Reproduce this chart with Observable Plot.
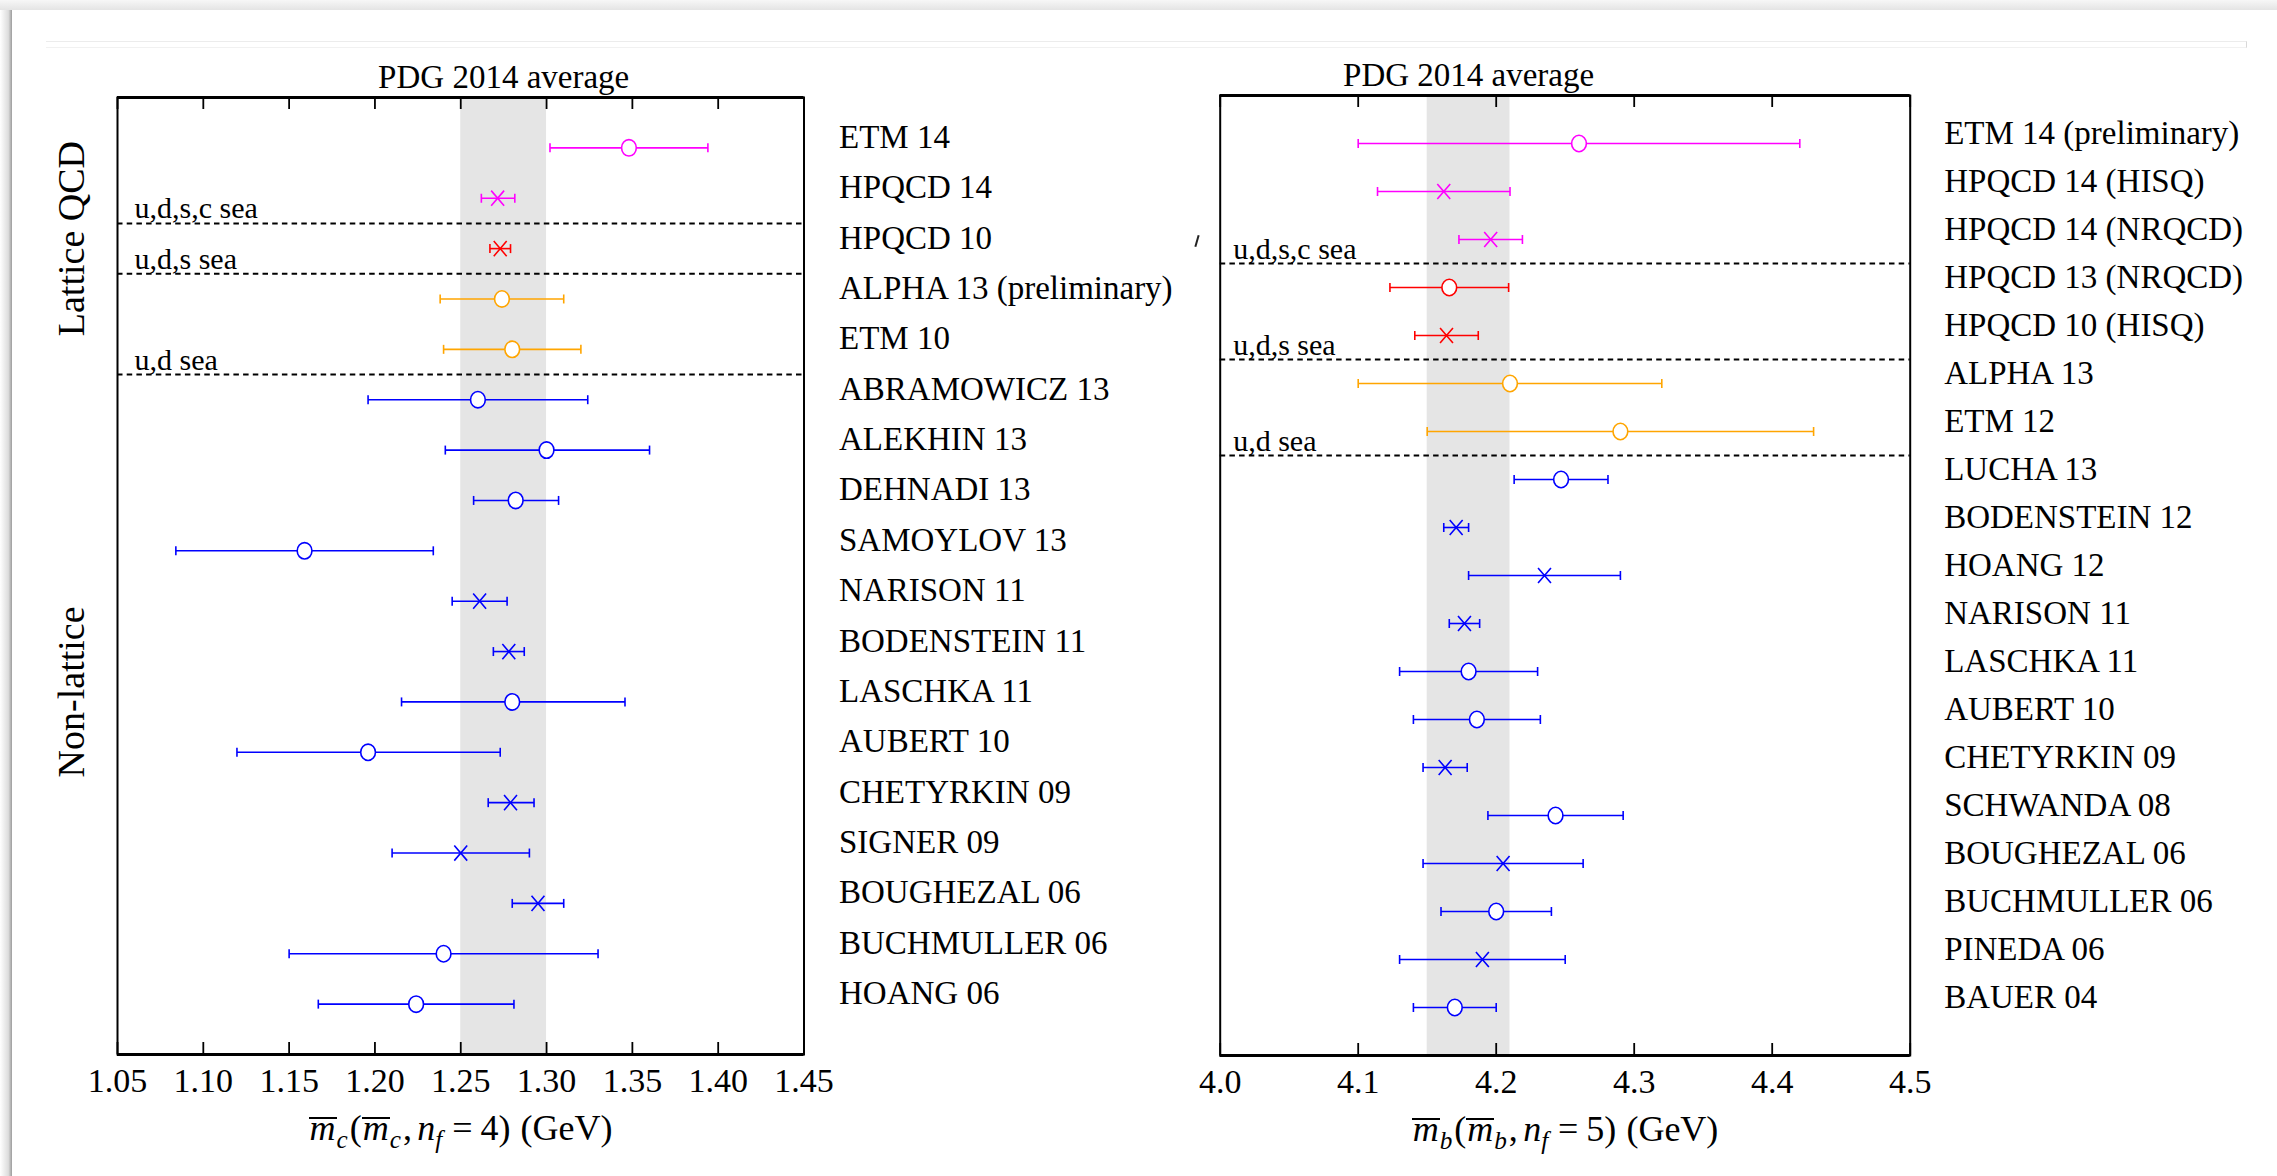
<!DOCTYPE html>
<html>
<head>
<meta charset="utf-8">
<script src="https://cdn.jsdelivr.net/npm/d3@7"></script>
<script src="https://cdn.jsdelivr.net/npm/@observablehq/plot@0.6"></script>
<style>
html, body { margin: 0; padding: 0; background: #fff; }
#page { position: relative; width: 2277px; height: 1176px; overflow: hidden; background: #fff;
        font-family: "Liberation Serif", "Times New Roman", serif; color: #000; }
.panel { position: absolute; top: 0; }
.panel svg { overflow: visible; background: transparent; }
.xl { position: absolute; text-align: center; font-size: 36px; line-height: 36px; white-space: nowrap; color: #000; }
.ob { display: inline-block; font-style: italic; line-height: 0.5em; border-top: 2px solid #000; padding: 0 1px; }
.sb { font-size: 0.7em; vertical-align: -0.3em; font-style: italic; margin-right: 2px; }
.eq { margin: 0 0.22em; }
.cm { margin-right: 0.15em; }
.gap { margin-left: 0.28em; }
.topshade { position: absolute; left: 0; top: 0; width: 100%; height: 10px;
            background: linear-gradient(to bottom, #f7f7f7, #e4e4e4); }
.leftshade { position: absolute; left: 0; top: 10px; width: 12px; height: 1166px;
             background: linear-gradient(to right, #ffffff, #dcdcdc 70%, #9c9c9c); }
.faint { position: absolute; left: 46px; top: 41px; width: 2200px; height: 5px;
         border-top: 1px solid #ececec; border-bottom: 1px solid #f1f1f1; border-right: 1px solid #d8d8d8; }
.stray { position: absolute; left: 1196px; top: 235px; width: 2px; height: 12px; background: #222;
         transform: rotate(16deg); }
</style>
</head>
<body>
<div id="page">
  <div class="topshade"></div>
  <div class="leftshade"></div>
  <div class="faint"></div>
  <div class="stray"></div>
  <div id="left" class="panel" style="left:0px"></div>
  <div id="right" class="panel" style="left:1150px"></div>
  <div class="xl" style="left:117px; width:687px; top:1110px;">
    <span class="ob">m</span><span class="sb">c</span>(<span class="ob">m</span><span class="sb">c</span><span class="cm">,</span><i>n</i><span class="sb">f</span><span class="eq">=</span>4)<span class="gap"></span>(GeV)
  </div>
  <div class="xl" style="left:1220px; width:690px; top:1111px;">
    <span class="ob">m</span><span class="sb">b</span>(<span class="ob">m</span><span class="sb">b</span><span class="cm">,</span><i>n</i><span class="sb">f</span><span class="eq">=</span>5)<span class="gap"></span>(GeV)
  </div>
</div>
<script>
// ---------- charm quark (left) ----------
const charmNames = ["ETM 14", "HPQCD 14", "HPQCD 10", "ALPHA 13 (preliminary)", "ETM 10",
  "ABRAMOWICZ 13", "ALEKHIN 13", "DEHNADI 13", "SAMOYLOV 13", "NARISON 11", "BODENSTEIN 11",
  "LASCHKA 11", "AUBERT 10", "CHETYRKIN 09", "SIGNER 09", "BOUGHEZAL 06", "BUCHMULLER 06", "HOANG 06"];
const charmValue = [1.348, 1.2715, 1.273, 1.274, 1.280, 1.260, 1.300, 1.282, 1.159, 1.261, 1.278,
  1.280, 1.196, 1.279, 1.250, 1.295, 1.240, 1.224];
const charmLow = [1.302, 1.262, 1.267, 1.238, 1.240, 1.196, 1.241, 1.2575, 1.084, 1.245, 1.269,
  1.2155, 1.1196, 1.266, 1.210, 1.280, 1.150, 1.167];
const charmHigh = [1.394, 1.2815, 1.279, 1.310, 1.320, 1.324, 1.360, 1.307, 1.234, 1.277, 1.287,
  1.3457, 1.273, 1.2927, 1.290, 1.310, 1.330, 1.281];
const charmMarker = ["o", "x", "x", "o", "o", "o", "o", "o", "o", "x", "x", "o", "o", "x", "x", "x", "o", "o"];
const charmSea = ["udsc", "udsc", "uds", "ud", "ud", "pheno", "pheno", "pheno", "pheno", "pheno", "pheno",
  "pheno", "pheno", "pheno", "pheno", "pheno", "pheno", "pheno"];
const charmSeparators = [1.5, 2.5, 4.5];
const charmTicks = [1.05, 1.10, 1.15, 1.20, 1.25, 1.30, 1.35, 1.40, 1.45];
const charmPDG = [1.25, 1.30];
const charmGroups = [{label: "Lattice QCD", first: 0, last: 4}, {label: "Non-lattice", first: 5, last: 17}];

// ---------- bottom quark (right) ----------
const bottomNames = ["ETM 14 (preliminary)", "HPQCD 14 (HISQ)", "HPQCD 14 (NRQCD)", "HPQCD 13 (NRQCD)",
  "HPQCD 10 (HISQ)", "ALPHA 13", "ETM 12", "LUCHA 13", "BODENSTEIN 12", "HOANG 12", "NARISON 11",
  "LASCHKA 11", "AUBERT 10", "CHETYRKIN 09", "SCHWANDA 08", "BOUGHEZAL 06", "BUCHMULLER 06", "PINEDA 06", "BAUER 04"];
const bottomValue = [4.260, 4.162, 4.196, 4.166, 4.164, 4.210, 4.290, 4.247, 4.171, 4.235, 4.177,
  4.180, 4.186, 4.163, 4.243, 4.205, 4.200, 4.190, 4.170];
const bottomLow = [4.100, 4.114, 4.173, 4.123, 4.141, 4.100, 4.150, 4.213, 4.162, 4.180, 4.166,
  4.130, 4.140, 4.147, 4.194, 4.147, 4.160, 4.130, 4.140];
const bottomHigh = [4.420, 4.210, 4.219, 4.209, 4.187, 4.320, 4.430, 4.281, 4.180, 4.290, 4.188,
  4.230, 4.232, 4.179, 4.292, 4.263, 4.240, 4.250, 4.200];
const bottomMarker = ["o", "x", "x", "o", "x", "o", "o", "o", "x", "x", "x", "o", "o", "x", "o", "x", "o", "x", "o"];
const bottomSea = ["udsc", "udsc", "udsc", "uds", "uds", "ud", "ud", "pheno", "pheno", "pheno", "pheno",
  "pheno", "pheno", "pheno", "pheno", "pheno", "pheno", "pheno", "pheno"];
const bottomSeparators = [2.5, 4.5, 6.5];
const bottomTicks = [4.0, 4.1, 4.2, 4.3, 4.4, 4.5];
const bottomPDG = [4.15, 4.21];

const seaLabels = ["u,d,s,c sea", "u,d,s sea", "u,d sea"];
const seaKinds = ["udsc", "uds", "ud", "pheno"];
const seaColors = ["#ff00ff", "#ff0000", "#ffa500", "#0000ff"];

// ---------- custom symbols ----------
const capSymbol = {draw(ctx, size) { const r = Math.sqrt(size / Math.PI); ctx.moveTo(0, -r); ctx.lineTo(0, r); }};
const crossSymbol = {draw(ctx, size) {
  const r = Math.sqrt(size / Math.PI), w = r * 0.85;
  ctx.moveTo(-w, -r); ctx.lineTo(w, r); ctx.moveTo(-w, r); ctx.lineTo(w, -r);
}};
const ringSymbol = {draw(ctx, size) {
  const r = Math.sqrt(size / Math.PI), rx = r * 0.9, ry = r, k = 0.5523;
  ctx.moveTo(rx, 0);
  ctx.bezierCurveTo(rx, ry * k, rx * k, ry, 0, ry);
  ctx.bezierCurveTo(-rx * k, ry, -rx, ry * k, -rx, 0);
  ctx.bezierCurveTo(-rx, -ry * k, -rx * k, -ry, 0, -ry);
  ctx.bezierCurveTo(rx * k, -ry, rx, -ry * k, rx, 0);
  ctx.closePath();
}};

function panel(cfg) {
  const rows = cfg.names.map((name, i) => ({i, name, v: cfg.value[i], lo: cfg.low[i], hi: cfg.high[i],
    mk: cfg.marker[i], sea: cfg.sea[i]}));
  const n = rows.length;
  const frameH = cfg.height - cfg.mt - cfg.mb;
  const yDomain = [n, -1];
  const bw = 1.6;
  return Plot.plot({
    width: cfg.width, height: cfg.height,
    marginLeft: cfg.ml, marginRight: cfg.mr, marginTop: cfg.mt, marginBottom: cfg.mb,
    style: {fontFamily: "Liberation Serif, Times New Roman, serif", color: "#000", background: "transparent", overflow: "visible"},
    x: {domain: [cfg.ticks[0], cfg.ticks[cfg.ticks.length - 1]], axis: null},
    y: {domain: yDomain, axis: null},
    color: {domain: seaKinds, range: seaColors},
    marks: [
      Plot.rect([cfg.pdg], {x1: d => d[0], x2: d => d[1], fill: "#e5e5e5"}),
      Plot.ruleY(cfg.separators, {y: d => d, stroke: "#000", strokeWidth: 2, strokeDasharray: "5.5,4.2"}),
      Plot.text(cfg.separators, {y: d => d, text: (d, i) => seaLabels[i], frameAnchor: "left", dx: cfg.seaDx, dy: -5,
        textAnchor: "start", lineAnchor: "bottom", fontSize: 30, fill: "#000"}),
      Plot.link(rows, {x1: "lo", x2: "hi", y1: "i", y2: "i", stroke: "sea", strokeWidth: bw}),
      Plot.dot(rows, {x: "lo", y: "i", symbol: capSymbol, r: 4.5, stroke: "sea", strokeWidth: bw}),
      Plot.dot(rows, {x: "hi", y: "i", symbol: capSymbol, r: 4.5, stroke: "sea", strokeWidth: bw}),
      Plot.dot(rows.filter(d => d.mk === "o"), {x: "v", y: "i", symbol: ringSymbol, r: 8.2, stroke: "sea", fill: "white", strokeWidth: bw}),
      Plot.dot(rows.filter(d => d.mk === "x"), {x: "v", y: "i", symbol: crossSymbol, r: 7.6, stroke: "sea", fill: "none", strokeWidth: bw}),
      Plot.frame({stroke: "#000", strokeWidth: 2}),
      Plot.ruleY(yDomain, {y: d => d, stroke: "#000", strokeWidth: 3.2}),
      Plot.ruleX(cfg.ticks, {x: d => d, insetBottom: frameH - 12, stroke: "#000", strokeWidth: 1.8}),
      Plot.ruleX(cfg.ticks, {x: d => d, insetTop: frameH - 12, stroke: "#000", strokeWidth: 1.8}),
      Plot.axisX(cfg.ticks, {anchor: "bottom", tickSize: 0, tickPadding: 13, tickFormat: cfg.fmt, fontSize: 34, fill: "#000"}),
      Plot.text(rows, {y: "i", text: "name", frameAnchor: "right", dx: cfg.labelDx, textAnchor: "start",
        lineAnchor: "bottom", fontSize: 33, fill: "#000"}),
      Plot.text([cfg.pdg], {x: d => (d[0] + d[1]) / 2, text: () => "PDG 2014 average", frameAnchor: "top",
        dy: -10, lineAnchor: "bottom", fontSize: 33, fill: "#000"}),
      Plot.text(cfg.groups, {y: d => (d.first + d.last) / 2, text: "label", frameAnchor: "left", dx: -46, dy: -10,
        rotate: -90, textAnchor: "middle", lineAnchor: "middle", fontSize: 38, fill: "#000"})
    ]
  });
}

document.getElementById("left").appendChild(panel({
  names: charmNames, value: charmValue, low: charmLow, high: charmHigh, marker: charmMarker, sea: charmSea,
  separators: charmSeparators, ticks: charmTicks, pdg: charmPDG, groups: charmGroups,
  fmt: d3.format(".2f"), width: 1190, height: 1176, ml: 117, mr: 386.5, mt: 97, mb: 122, seaDx: 17, labelDx: 35
}));
document.getElementById("right").appendChild(panel({
  names: bottomNames, value: bottomValue, low: bottomLow, high: bottomHigh, marker: bottomMarker, sea: bottomSea,
  separators: bottomSeparators, ticks: bottomTicks, pdg: bottomPDG, groups: [],
  fmt: d3.format(".1f"), width: 1127, height: 1176, ml: 69.7, mr: 367.3, mt: 95, mb: 121, seaDx: 13, labelDx: 34
}));
</script>
</body>
</html>
